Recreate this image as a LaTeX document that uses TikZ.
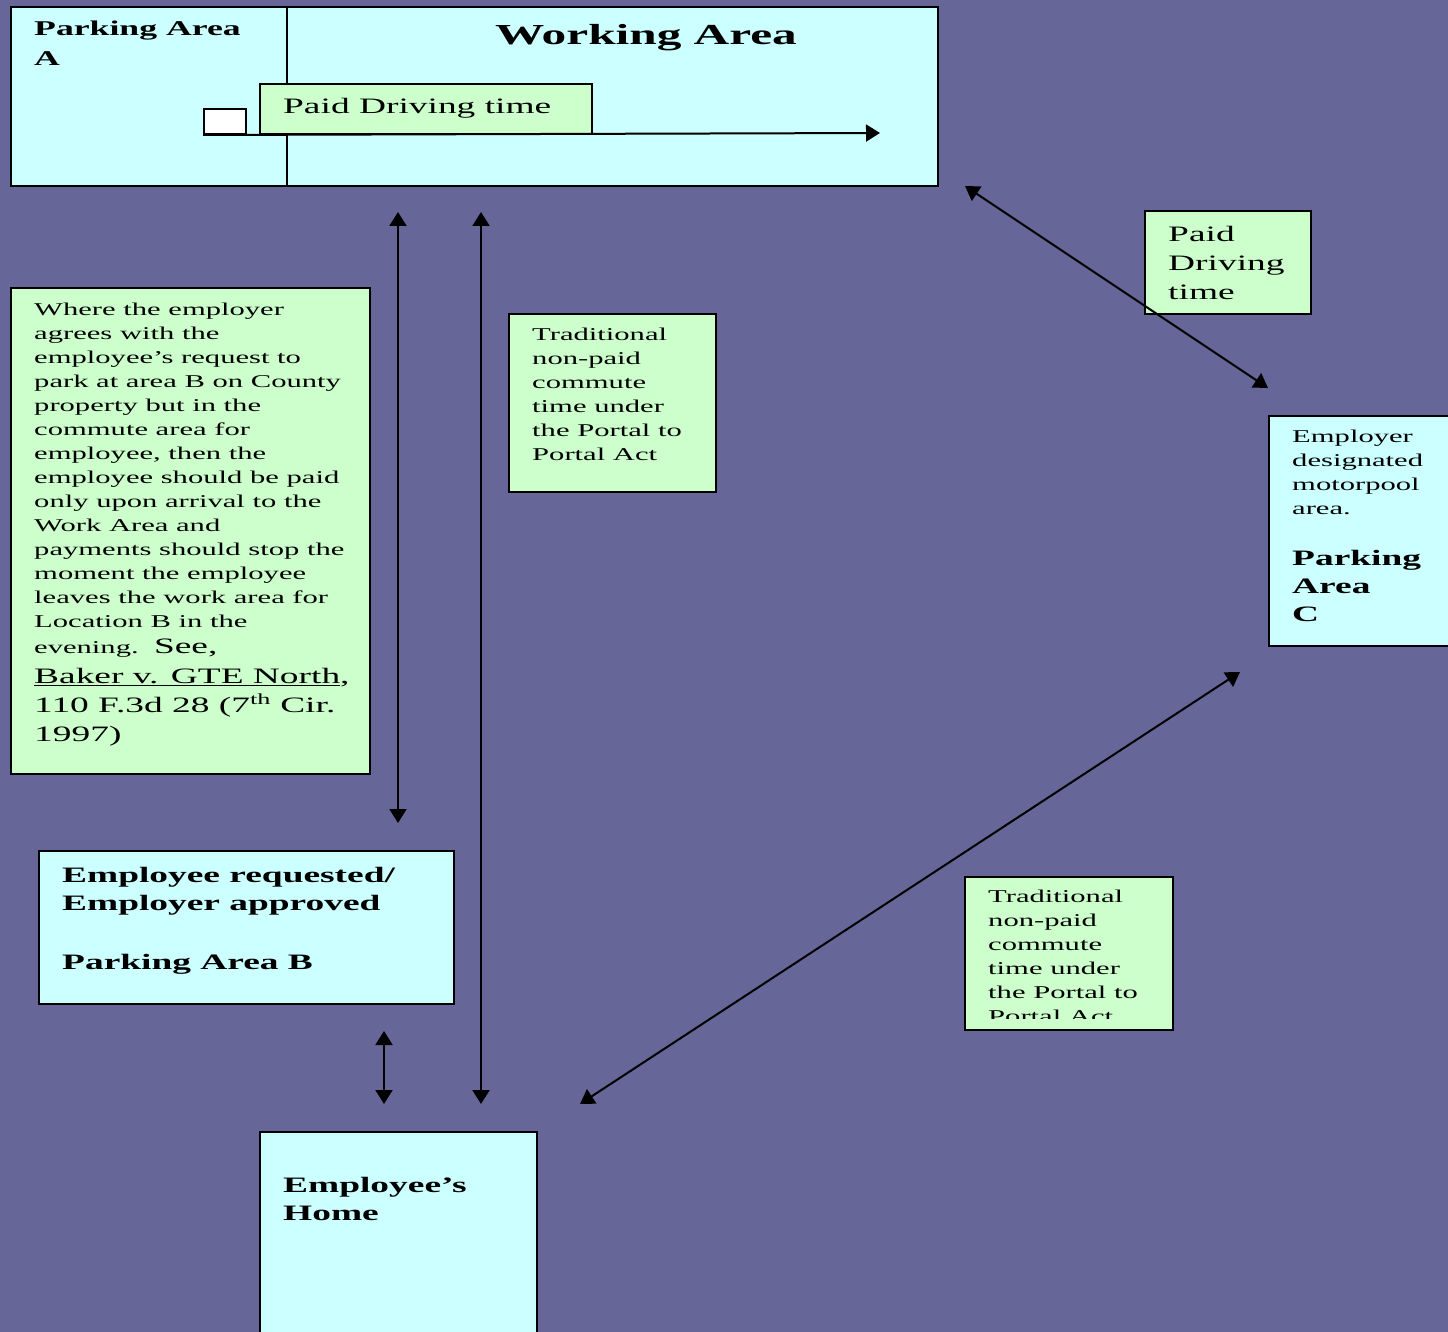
\documentclass[tikz,border=0pt]{standalone}
\usepackage{fontspec}
\setmainfont{Liberation Serif}[FakeStretch=1.7]
\usetikzlibrary{arrows.meta,positioning}

\definecolor{bgblue}{HTML}{666699}
\definecolor{boxcyan}{HTML}{CCFFFF}
\definecolor{boxgreen}{HTML}{CCFFCC}

\tikzset{
  area/.style={draw, line width=2pt, fill=boxcyan, anchor=north west, inner sep=0pt},
  tag/.style={area, fill=boxgreen},
  txt/.style={anchor=north west, inner sep=0pt, align=left},
  tip/.tip={Triangle[length=14pt,width=17pt]},
  link/.style={line width=2pt, tip-tip},
}
\newcommand{\smalltxt}{\fontsize{18}{24}\selectfont}
\newcommand{\bigtxt}{\fontsize{22}{28}\selectfont}

\begin{document}
\begin{tikzpicture}[x=1pt,y=-1pt]
    \useasboundingbox (0,0) rectangle (1448,1332);
    \fill[bgblue] (0,0) rectangle (1448,1332);

    % working area with parking area A
    \node[area, minimum width=927pt, minimum height=179pt] (workArea) at (10,6) {};
    \coordinate (divTop) at (287,6);
    \coordinate (divBot) at (287,185);
    \draw[line width=1.5pt] (divTop) -- (divBot);
    \node[txt, font=\fontsize{21}{30}\selectfont\bfseries] (parkATxt) at (34,21) {Parking Area\\A};
    \node[txt, anchor=north, font=\fontsize{29}{34}\selectfont\bfseries] (workTxt) at (646,24) {Working Area};
    \node[area, fill=white, minimum width=42pt, minimum height=25pt] (carBox) at (203,108) {};
    \node[tag, minimum width=332pt, minimum height=50pt] (paidTop) at (259,83) {};
    \node[txt, anchor=west, font=\bigtxt] (paidTopTxt) at (283,108) {Paid Driving time};
    \coordinate (driveEnd) at (880,133);
    \draw[line width=2pt, -tip] (carBox.south west) -- (driveEnd);

    % paid driving to area C
    \node[tag, minimum width=166pt, minimum height=103pt] (paidRight) at (1144,210) {};
    \node[txt, font=\fontsize{22}{29}\selectfont] (paidRightTxt) at (1168,226) {Paid\\Driving\\time};
    \coordinate (workC) at (965,186);
    \coordinate (cWork) at (1268,388);
    \draw[link] (workC) -- (cWork);

    % parking area C
    \node[area, minimum width=200pt, minimum height=230pt] (areaC) at (1268,415) {};
    \node[txt, font=\smalltxt] (areaCTxt) at (1292,430) {Employer\\designated\\motorpool\\area.};
    \node[txt, font=\bigtxt\bfseries] (areaCName) at (1292,550) {Parking\\Area\\C};

    % note on area B
    \node[tag, minimum width=359pt, minimum height=486pt] (noteB) at (10,287) {};
    \node[txt, font=\smalltxt] (noteTxt) at (34,303) {Where the employer\\
        agrees with the\\
        employee’s request to\\
        park at area B on County\\
        property but in the\\
        commute area for\\
        employee, then the\\
        employee should be paid\\
        only upon arrival to the\\
        Work Area and\\
        payments should stop the\\
        moment the employee\\
        leaves the work area for\\
        Location B in the\\[2pt]
        evening.\ \ {\bigtxt See,}};
    \node[txt, font=\fontsize{22}{29}\selectfont] (noteCite) at (34,668) {\underline{Baker v. GTE North},\\
        110 F.3d 28 (7\textsuperscript{th} Cir.\\
        1997)};

    % commute note, top
    \node[tag, minimum width=207pt, minimum height=178pt] (tradTop) at (508,313) {};
    \node[txt, font=\smalltxt] (tradTopTxt) at (532,328) {Traditional\\non-paid\\commute\\time under\\the Portal to\\Portal Act};

    % vertical arrows
    \coordinate (workB) at (398,212);
    \coordinate (bWork) at (398,823);
    \draw[link] (workB) -- (bWork);
    \coordinate (workHome) at (481,212);
    \coordinate (homeWork) at (481,1104);
    \draw[link] (workHome) -- (homeWork);

    % parking area B
    \node[area, minimum width=415pt, minimum height=153pt] (areaB) at (38,850) {};
    \node[txt, font=\bigtxt\bfseries] (areaBTxt) at (62,867) {Employee requested/\\Employer approved\\[31pt]Parking Area B};
    \coordinate (bHome) at (384,1031);
    \coordinate (homeB) at (384,1104);
    \draw[link] (bHome) -- (homeB);

    % home
    \node[area, minimum width=277pt, minimum height=230pt] (home) at (259,1131) {};
    \node[txt, font=\bigtxt\bfseries] (homeTxt) at (283,1177) {Employee’s\\Home};

    % commute note, bottom (last line cut off by the box)
    \node[tag, minimum width=208pt, minimum height=153pt] (tradLow) at (964,876) {};
    \begin{scope}
        \clip (966,878) rectangle (1170,1018);
        \node[txt, font=\smalltxt] (tradLowTxt) at (988,890) {Traditional\\non-paid\\commute\\time under\\the Portal to\\Portal Act};
    \end{scope}
    \coordinate (homeC) at (580,1104);
    \coordinate (cHome) at (1240,672);
    \draw[link] (homeC) -- (cHome);
\end{tikzpicture}
\end{document}
